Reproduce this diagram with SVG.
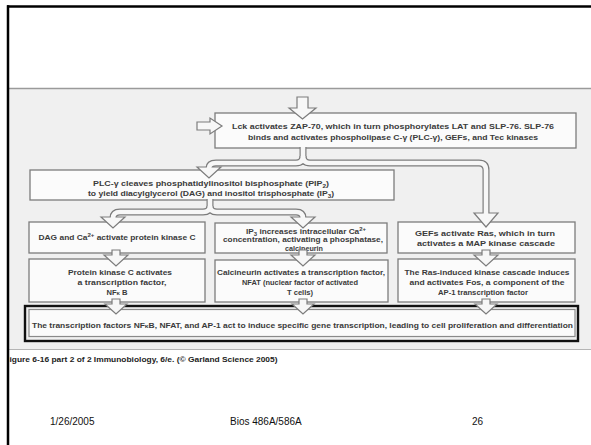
<svg xmlns="http://www.w3.org/2000/svg" width="591" height="445" viewBox="0 0 591 445">
<style>
.bx{fill:#fbfbfb;stroke:#7c7c7c;stroke-width:1.3}
.t{font-family:"Liberation Sans",Arial,sans-serif;font-size:7.6px;font-weight:bold;fill:#3a3a3a;text-anchor:middle}
.ft{font-family:"Liberation Sans",Arial,sans-serif;font-size:10px;fill:#111}
.ar{fill:#f7f7f7;stroke:#7c7c7c;stroke-width:1.2;stroke-linejoin:miter}
.to{fill:none;stroke:#7c7c7c;stroke-width:7}
.ti{fill:none;stroke:#f7f7f7;stroke-width:4.6}
</style>
<rect width="591" height="445" fill="#ffffff"/>
<g id="figure-bg">
<rect x="9" y="88" width="582" height="262" fill="#f0f0f0"/>
<line x1="9" y1="88.5" x2="591" y2="88.5" stroke="#9a9a9a" stroke-width="1.5"/>
<line x1="9" y1="349.5" x2="591" y2="349.5" stroke="#b5b5b5" stroke-width="1"/>
</g>
<g id="frame">
<line x1="7" y1="6.5" x2="591" y2="6.5" stroke="#000" stroke-width="2.5"/>
<line x1="8" y1="5.3" x2="8" y2="445" stroke="#000" stroke-width="2.5"/>
</g>

<g id="n1">
<rect class="bx" x="215" y="113" width="361" height="35"/>
<text class="t" x="393" y="129" textLength="322" lengthAdjust="spacingAndGlyphs">Lck activates ZAP-70,  which in turn phosphorylates LAT and SLP-76. SLP-76</text>
<text class="t" x="393" y="140" textLength="290" lengthAdjust="spacingAndGlyphs">binds and activates phospholipase C-γ (PLC-γ), GEFs, and Tec kinases</text>
</g>
<g id="n2">
<rect class="bx" x="30" y="170" width="364" height="30"/>
<text class="t" x="211" y="186" textLength="236" lengthAdjust="spacingAndGlyphs">PLC-γ cleaves phosphatidylinositol bisphosphate (PIP<tspan dy="2" font-size="5.5">2</tspan><tspan dy="-2">)</tspan></text>
<text class="t" x="211" y="195.5" textLength="246" lengthAdjust="spacingAndGlyphs">to yield diacylglycerol (DAG) and inositol trisphosphate (IP<tspan dy="2" font-size="5.5">3</tspan><tspan dy="-2">)</tspan></text>
</g>
<g id="n3">
<rect class="bx" x="29" y="222" width="176" height="31"/>
<text class="t" x="117" y="240" textLength="157" lengthAdjust="spacingAndGlyphs">DAG  and Ca<tspan dy="-3" font-size="5.5">2+</tspan><tspan dy="3"> activate protein kinase C</tspan></text>
</g>
<g id="n4">
<rect class="bx" x="215" y="223" width="172" height="30"/>
<text class="t" x="306" y="233.5" textLength="120" lengthAdjust="spacingAndGlyphs" style="font-size:7.2px">IP<tspan dy="2" font-size="5.2">3</tspan><tspan dy="-2"> increases intracellular Ca</tspan><tspan dy="-3" font-size="5.2">2+</tspan></text>
<text class="t" x="303" y="242" textLength="160" lengthAdjust="spacingAndGlyphs" style="font-size:7.2px">concentration, activating a phosphatase,</text>
<text class="t" x="304" y="250.5" style="font-size:7.2px">calcineurin</text>
</g>
<g id="n5">
<rect class="bx" x="398" y="222" width="177" height="31"/>
<text class="t" x="485" y="236" textLength="140" lengthAdjust="spacingAndGlyphs">GEFs activate Ras, which in turn</text>
<text class="t" x="486" y="246" textLength="138" lengthAdjust="spacingAndGlyphs">activates a MAP kinase cascade</text>
</g>
<g id="n6">
<rect class="bx" x="29" y="259" width="176" height="43"/>
<text class="t" x="120" y="275" textLength="104" lengthAdjust="spacingAndGlyphs">Protein kinase C  activates</text>
<text class="t" x="122" y="285" textLength="89" lengthAdjust="spacingAndGlyphs">a  transcription factor,</text>
<text class="t" x="117" y="294.5">NF<tspan font-size="6">κ</tspan> B</text>
</g>
<g id="n7">
<rect class="bx" x="215" y="260" width="173" height="42"/>
<text class="t" x="301" y="275" textLength="168" lengthAdjust="spacingAndGlyphs">Calcineurin activates a  transcription factor,</text>
<text class="t" x="300" y="285" textLength="116" lengthAdjust="spacingAndGlyphs">NFAT (nuclear factor of activated</text>
<text class="t" x="300" y="294.5">T cells)</text>
</g>
<g id="n8">
<rect class="bx" x="398" y="259" width="177" height="43"/>
<text class="t" x="487" y="275" textLength="165" lengthAdjust="spacingAndGlyphs">The Ras-induced kinase cascade induces</text>
<text class="t" x="487" y="285" textLength="155" lengthAdjust="spacingAndGlyphs">and activates Fos, a component of the</text>
<text class="t" x="483" y="294.5" textLength="90" lengthAdjust="spacingAndGlyphs">AP-1 transcription factor</text>
</g>
<g id="n9">
<rect x="25" y="306" width="553" height="35" fill="none" stroke="#111" stroke-width="2.4"/>
<rect x="29" y="309.5" width="546" height="27" fill="#fbfbfb" stroke="#8a8a8a" stroke-width="1.2"/>
<text class="t" x="302.5" y="328" textLength="541" lengthAdjust="spacingAndGlyphs">The transcription factors NF<tspan font-size="6">κ</tspan>B, NFAT, and AP-1 act to induce specific gene transcription, leading to cell proliferation and differentiation</text>
</g>

<g id="connectors">
<polygon class="ar" points="297,97 308,97 308,108 316,108 302.5,119 289,108 297,108"/>
<polygon class="ar" points="197,122 210,122 210,118 222,126 210,134 210,130 197,130"/>
<path class="to" d="M303,147 L303,156 Q303,163 296,163 L216,163 Q209,163 209,168"/>
<path class="to" d="M303,156 Q303,163 310,163 L479,163 Q486,163 486,170 L486,214"/>
<path class="to" d="M210,199 L210,206 Q210,212 203,212 L120,212 Q113,212 113,218"/>
<path class="to" d="M210,206 Q210,212 217,212 L296,212 Q303,212 303,218"/>
<polygon class="ar" points="197,167 221,167 209,178"/>
<polygon class="ar" points="474,213 498,213 486,227"/>
<polygon class="ar" points="101,217 125,217 113,228"/>
<polygon class="ar" points="291,217 315,217 303,228"/>
<path class="ti" d="M303,147 L303,156 Q303,163 296,163 L216,163 Q209,163 209,168.5"/>
<path class="ti" d="M303,156 Q303,163 310,163 L479,163 Q486,163 486,170 L486,214.5"/>
<path class="ti" d="M210,199 L210,206 Q210,212 203,212 L120,212 Q113,212 113,218.5"/>
<path class="ti" d="M210,206 Q210,212 217,212 L296,212 Q303,212 303,218.5"/>
<polygon class="ar" points="112,250 120,250 120,255 128,255 116,266 104,255 112,255"/>
<polygon class="ar" points="299,250 307,250 307,255 315,255 303,266 291,255 299,255"/>
<polygon class="ar" points="482,250 490,250 490,255 498,255 486,266 474,255 482,255"/>
<polygon class="ar" points="112,299 120,299 120,304 127,304 116,314 105,304 112,304"/>
<polygon class="ar" points="299,299 307,299 307,304 314,304 303,314 292,304 299,304"/>
<polygon class="ar" points="482,299 490,299 490,304 497,304 486,314 475,304 482,304"/>
</g>

<g id="caption">
<text x="9.5" y="362" font-family="'Liberation Sans',Arial,sans-serif" font-size="7.5" font-weight="bold" fill="#222" textLength="268" lengthAdjust="spacingAndGlyphs">igure 6-16 part 2 of 2  Immunobiology, 6/e. (© Garland Science 2005)</text>
</g>
<g id="footer">
<text class="ft" x="50" y="425">1/26/2005</text>
<text class="ft" x="230" y="425">Bios 486A/586A</text>
<text class="ft" x="472" y="425">26</text>
</g>
</svg>
